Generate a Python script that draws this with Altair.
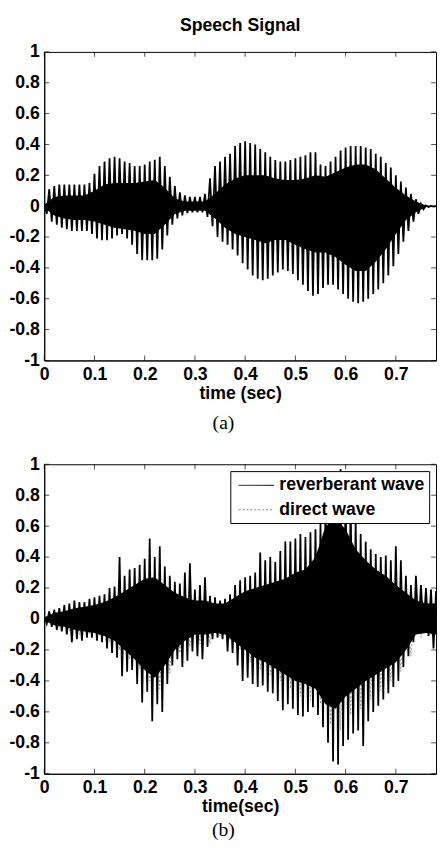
import altair as alt
import pandas as pd

# ---------------- data ----------------
# panel (a): envelope peaks at t = 0.00, 0.01, ... 0.78 (upper) and troughs at t = 0.005 ... 0.775 (lower)
a_upper = [0.02, 0.11, 0.13, 0.14, 0.14, 0.14, 0.14, 0.14, 0.14, 0.15,
           0.21, 0.26, 0.29, 0.31, 0.32, 0.31, 0.29, 0.28, 0.26, 0.26,
           0.27, 0.29, 0.30, 0.32, 0.26, 0.19, 0.13, 0.09, 0.07, 0.06,
           0.06, 0.06, 0.08, 0.18, 0.26, 0.29, 0.32, 0.34, 0.39, 0.41,
           0.42, 0.41, 0.40, 0.37, 0.35, 0.32, 0.30, 0.29, 0.29, 0.30,
           0.31, 0.32, 0.33, 0.35, 0.35, 0.27, 0.26, 0.29, 0.32, 0.36,
           0.38, 0.39, 0.39, 0.39, 0.38, 0.37, 0.34, 0.32, 0.28, 0.25,
           0.20, 0.16, 0.12, 0.08, 0.045, 0.015, 0.005, 0.002, 0.0]
a_lower = [-0.05, -0.10, -0.12, -0.14, -0.15, -0.16, -0.16, -0.16, -0.16, -0.18,
           -0.21, -0.22, -0.22, -0.21, -0.19, -0.18, -0.21, -0.25, -0.31, -0.35,
           -0.35, -0.35, -0.34, -0.28, -0.19, -0.12, -0.08, -0.06, -0.045, -0.04,
           -0.04, -0.04, -0.07, -0.13, -0.20, -0.23, -0.25, -0.28, -0.32, -0.37,
           -0.41, -0.45, -0.47, -0.48, -0.47, -0.45, -0.43, -0.41, -0.42, -0.44,
           -0.48, -0.51, -0.55, -0.58, -0.57, -0.53, -0.51, -0.51, -0.54, -0.57,
           -0.60, -0.62, -0.63, -0.62, -0.60, -0.57, -0.54, -0.50, -0.45, -0.39,
           -0.31, -0.23, -0.16, -0.10, -0.05, -0.02, -0.006, -0.002]
# dense dark core of panel (a), every 0.02 s
a_core_up = [0.01, 0.06, 0.07, 0.07, 0.07, 0.10, 0.14, 0.15, 0.15, 0.15,
             0.16, 0.17, 0.12, 0.05, 0.03, 0.03, 0.03, 0.08, 0.14, 0.18,
             0.20, 0.20, 0.20, 0.18, 0.17, 0.17, 0.18, 0.20, 0.19, 0.22,
             0.25, 0.27, 0.27, 0.24, 0.18, 0.12, 0.07, 0.03, 0.005, 0.0]
a_core_low = [-0.01, -0.06, -0.08, -0.09, -0.09, -0.10, -0.12, -0.14, -0.15, -0.16,
              -0.18, -0.18, -0.12, -0.05, -0.03, -0.03, -0.03, -0.08, -0.14, -0.18,
              -0.20, -0.22, -0.24, -0.22, -0.22, -0.25, -0.28, -0.30, -0.30, -0.33,
              -0.38, -0.42, -0.42, -0.36, -0.28, -0.18, -0.09, -0.04, -0.005, 0.0]

# panel (b): reverberant wave
b_upper = [0.02, 0.05, 0.06, 0.07, 0.09, 0.10, 0.12, 0.11, 0.11, 0.13,
           0.14, 0.15, 0.16, 0.20, 0.21, 0.40, 0.28, 0.32, 0.33, 0.35,
           0.39, 0.52, 0.40, 0.47, 0.34, 0.28, 0.24, 0.23, 0.30, 0.36,
           0.19, 0.22, 0.27, 0.15, 0.14, 0.12, 0.13, 0.16, 0.22, 0.25,
           0.27, 0.28, 0.30, 0.43, 0.38, 0.40, 0.37, 0.44, 0.50, 0.50,
           0.52, 0.55, 0.53, 0.56, 0.58, 0.62, 0.75, 0.88, 0.93, 0.97,
           0.90, 0.80, 0.65, 0.55, 0.50, 0.45, 0.42, 0.40, 0.41, 0.38,
           0.47, 0.38, 0.28, 0.22, 0.28, 0.22, 0.20, 0.19, 0.18]
b_lower = [-0.03, -0.05, -0.07, -0.08, -0.10, -0.15, -0.13, -0.14, -0.12, -0.12,
           -0.14, -0.15, -0.19, -0.22, -0.25, -0.37, -0.34, -0.33, -0.42, -0.54,
           -0.47, -0.66, -0.55, -0.60, -0.42, -0.30, -0.26, -0.31, -0.27, -0.21,
           -0.24, -0.26, -0.18, -0.13, -0.12, -0.13, -0.21, -0.22, -0.30, -0.40,
           -0.38, -0.42, -0.44, -0.43, -0.47, -0.48, -0.53, -0.59, -0.55, -0.58,
           -0.62, -0.63, -0.60, -0.57, -0.62, -0.70, -0.80, -0.92, -0.94, -0.82,
           -0.78, -0.74, -0.72, -0.82, -0.66, -0.60, -0.56, -0.52, -0.48, -0.44,
           -0.40, -0.31, -0.24, -0.15, -0.08, -0.07, -0.11, -0.19]
b_core_up = [0.01, 0.04, 0.05, 0.07, 0.08, 0.09, 0.11, 0.14, 0.18, 0.22,
             0.26, 0.27, 0.22, 0.17, 0.14, 0.12, 0.12, 0.10, 0.10, 0.14,
             0.18, 0.20, 0.22, 0.24, 0.26, 0.30, 0.32, 0.40, 0.60, 0.65,
             0.58, 0.45, 0.38, 0.32, 0.28, 0.22, 0.17, 0.12, 0.10, 0.10]
b_core_low = [-0.01, -0.04, -0.05, -0.07, -0.08, -0.09, -0.11, -0.14, -0.20, -0.26,
              -0.33, -0.38, -0.30, -0.20, -0.14, -0.10, -0.10, -0.09, -0.10, -0.15,
              -0.20, -0.25, -0.28, -0.32, -0.36, -0.40, -0.42, -0.45, -0.55, -0.58,
              -0.50, -0.45, -0.40, -0.36, -0.32, -0.28, -0.20, -0.10, -0.09, -0.10]
# panel (b): direct wave, every 0.02 s (peaks) / shifted 0.01 s (troughs)
d_upper = [0.02, 0.05, 0.07, 0.09, 0.09, 0.11, 0.13, 0.17, 0.22, 0.26,
           0.30, 0.32, 0.26, 0.20, 0.18, 0.15, 0.15, 0.12, 0.12, 0.18,
           0.22, 0.25, 0.28, 0.30, 0.34, 0.38, 0.40, 0.46, 0.65, 0.72,
           0.68, 0.52, 0.44, 0.38, 0.34, 0.30, 0.22, 0.16, 0.14, 0.12]
d_lower = [-0.02, -0.06, -0.08, -0.10, -0.10, -0.11, -0.15, -0.20, -0.26, -0.32,
           -0.40, -0.45, -0.35, -0.22, -0.18, -0.16, -0.16, -0.11, -0.14, -0.20,
           -0.28, -0.33, -0.36, -0.40, -0.45, -0.50, -0.52, -0.55, -0.68, -0.72,
           -0.62, -0.58, -0.52, -0.46, -0.40, -0.34, -0.24, -0.12, -0.10, -0.14]

series_names = ["reverberant wave", "direct wave"]
x_ticks = [0, 0.1, 0.2, 0.3, 0.4, 0.5, 0.6, 0.7]
y_ticks = [-1, -0.8, -0.6, -0.4, -0.2, 0, 0.2, 0.4, 0.6, 0.8, 1]


def zigzag(up, low, step, name):
    t = [round(i * step, 4) for i in range(len(up))] + \
        [round(i * step + step / 2, 4) for i in range(len(low))]
    df = pd.DataFrame({"t": t, "v": list(up) + list(low)})
    df = df.sort_values("t").reset_index(drop=True)
    df["series"] = name
    return df


def core(up, low, step):
    return pd.DataFrame({"t": [round(i * step, 4) for i in range(len(up))],
                         "up": up, "low": low})


FONT = "Liberation Sans"
W = 400
HA, HB = 315, 316
TICK = 5

x_scale = alt.Scale(domain=[0, 0.78], nice=False, zero=False)
y_scale = alt.Scale(domain=[-1, 1], nice=False)


def x_axis(title):
    return alt.Axis(values=x_ticks, format="~g", title=title, ticks=False, grid=False,
                    labelFlush=False, labelOverlap=False, labelPadding=5,
                    titlePadding=2, labelFont=FONT, labelFontSize=18,
                    labelFontWeight="bold", titleFont=FONT, titleFontSize=18,
                    titleFontWeight="bold", labelColor="black", titleColor="black",
                    domainColor="black")


y_axis = alt.Axis(values=y_ticks, title=None, ticks=False, grid=False,
                  labelOverlap=False, labelPadding=5,
                  labelExpr="replace(format(datum.value, '~g'), '\u2212', '-')",
                  labelFont=FONT, labelFontSize=18, labelFontWeight="bold",
                  labelColor="black", domainColor="black")

color_scale = alt.Scale(domain=series_names, range=["black", "#808080"])
dash_scale = alt.Scale(domain=series_names, range=[[1, 0], [2, 2]])

legend = alt.Legend(title=None, orient="top-right", offset=7, fillColor="white",
                    strokeColor="black", padding=4, labelFont=FONT,
                    labelFontSize=18, labelFontWeight="bold", labelColor="black",
                    symbolType="M-0.6,0H3", symbolSize=400, symbolStrokeWidth=1,
                    rowPadding=5, labelOffset=25)

xt_df = pd.DataFrame({"xt": x_ticks})
yt_df = pd.DataFrame({"yt": y_ticks})


def inner_ticks(h, xtitle):
    """MATLAB-style inward ticks on all four sides, placed by the scales."""
    xa = x_axis(xtitle)
    layers = []
    for yy in (TICK / 2, h - TICK / 2):
        layers.append(alt.Chart(xt_df).mark_tick(
            orient="vertical", size=TICK, thickness=1, color="black").encode(
            x=alt.X("xt:Q", scale=x_scale, axis=xa), y=alt.value(yy)))
    for xx in (TICK / 2, W - TICK / 2):
        layers.append(alt.Chart(yt_df).mark_tick(
            orient="horizontal", size=TICK, thickness=1, color="black").encode(
            y=alt.Y("yt:Q", scale=y_scale, axis=y_axis), x=alt.value(xx)))
    return layers


# ---------------- panel (a) ----------------
a_wave = zigzag(a_upper, a_lower, 0.01, "speech")
a_core_df = core(a_core_up, a_core_low, 0.02)

a_core_layer = alt.Chart(a_core_df).mark_area(color="black", clip=True).encode(
    x=alt.X("t:Q", scale=x_scale, axis=x_axis("time (sec)")),
    y=alt.Y("up:Q", scale=y_scale, axis=y_axis),
    y2="low:Q",
)
a_line = alt.Chart(a_wave).mark_line(color="black", strokeWidth=1.8, clip=True).encode(
    x=alt.X("t:Q", scale=x_scale, axis=x_axis("time (sec)")),
    y=alt.Y("v:Q", scale=y_scale, axis=y_axis),
)
a_caption = alt.Chart(pd.DataFrame({"c": ["(a)"]})).mark_text(
    font="Liberation Serif", fontSize=20, align="center", baseline="middle",
    color="black").encode(text="c:N", x=alt.value(W / 2 - 17), y=alt.value(HA + 64))

panel_a = alt.layer(*inner_ticks(HA, "time (sec)"), a_core_layer, a_line, a_caption).properties(
    width=W, height=HA,
    title=alt.TitleParams("Speech Signal", font=FONT, fontSize=18,
                          fontWeight="bold", offset=8, anchor="middle",
                          frame="group", color="black"),
)

# ---------------- panel (b) ----------------
b_wave = zigzag(b_upper, b_lower, 0.01, "reverberant wave")
d_wave = zigzag(d_upper, d_lower, 0.02, "direct wave")
b_core_df = core(b_core_up, b_core_low, 0.02)

color_enc = alt.Color("series:N", scale=color_scale, legend=legend)
dash_enc = alt.StrokeDash("series:N", scale=dash_scale, legend=legend)

d_line = alt.Chart(d_wave).mark_line(strokeWidth=0.8, clip=True).encode(
    x=alt.X("t:Q", scale=x_scale, axis=x_axis("time(sec)")),
    y=alt.Y("v:Q", scale=y_scale, axis=y_axis),
    color=color_enc, strokeDash=dash_enc,
)
b_core_layer = alt.Chart(b_core_df).mark_area(color="black", clip=True).encode(
    x=alt.X("t:Q", scale=x_scale, axis=x_axis("time(sec)")),
    y=alt.Y("up:Q", scale=y_scale, axis=y_axis),
    y2="low:Q",
)
b_line = alt.Chart(b_wave).mark_line(strokeWidth=1.8, clip=True).encode(
    x=alt.X("t:Q", scale=x_scale, axis=x_axis("time(sec)")),
    y=alt.Y("v:Q", scale=y_scale, axis=y_axis),
    color=color_enc, strokeDash=dash_enc,
)
b_caption = alt.Chart(pd.DataFrame({"c": ["(b)"]})).mark_text(
    font="Liberation Serif", fontSize=20, align="center", baseline="middle",
    color="black").encode(text="c:N", x=alt.value(W / 2 - 17), y=alt.value(HB + 58))

panel_b = alt.layer(*inner_ticks(HB, "time(sec)"), d_line, b_core_layer, b_line,
                    b_caption).properties(width=W, height=HB)

chart = alt.vconcat(panel_a, panel_b, spacing=21).resolve_legend(
    color="independent", strokeDash="independent"
).properties(
    padding={"left": 0, "top": 0, "right": 0, "bottom": 0},
    background="white",
).configure_view(stroke="black", strokeWidth=1)

chart.save("out.html", embed_options={"renderer": "svg", "actions": False})
